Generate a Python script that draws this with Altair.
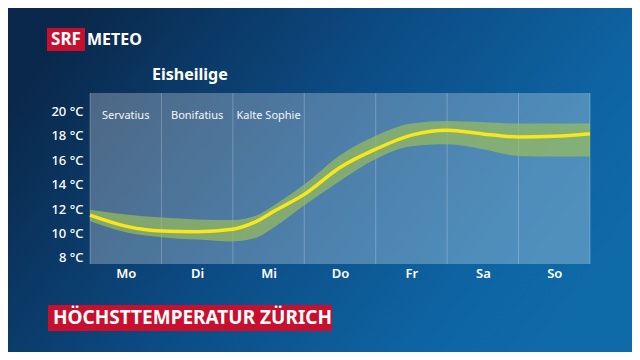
import altair as alt
import pandas as pd

# ---- data ----
days = ["Mo", "Di", "Mi", "Do", "Fr", "Sa", "So"]
saints = ["Servatius", "Bonifatius", "Kalte Sophie"]
pos = [0, 0.5, 1, 1.5, 2, 2.3, 2.6, 3, 3.5, 4, 4.5, 5, 5.5, 6, 6.5, 7]
temp = [11.5, 10.6, 10.2, 10.15, 10.35, 10.9, 11.9, 13.2, 15.4, 16.9, 18.05, 18.45, 18.15, 17.9, 17.95, 18.17]
upper = [11.95, 11.55, 11.3, 11.15, 11.1, 11.4, 12.4, 14.0, 16.4, 18.0, 19.0, 19.2, 19.1, 19.0, 19.0, 19.0]
lower = [11.0, 10.1, 9.7, 9.5, 9.35, 9.6, 10.6, 12.3, 14.3, 16.1, 17.15, 17.3, 16.9, 16.35, 16.3, 16.3]
y_ticks = [8, 10, 12, 14, 16, 18, 20]

W, H = 500, 171
PL, PT, PR, PB = 82, 85, 42, 88
FONT = "Noto Sans"

df = pd.DataFrame({"x": pos, "t": temp, "hi": upper, "lo": lower})
cols = pd.DataFrame({"start": list(range(7)), "end": list(range(1, 8)), "day": days})
bounds = pd.DataFrame({"b": list(range(0, 8))})
saint_df = pd.DataFrame({"x": [0.5, 1.5, 2.5], "name": saints})
one = pd.DataFrame({"a": [0]})

xs = alt.Scale(domain=[0, 7], nice=False, zero=False)
ys = alt.Scale(domain=[7.5, 21.5], nice=False, zero=False)

xaxis = alt.Axis(
    values=[0.5, 1.5, 2.5, 3.5, 4.5, 5.5, 6.5],
    labelExpr="['Mo','Di','Mi','Do','Fr','Sa','So'][floor(datum.value)]",
    title=None, domain=False, ticks=False, grid=False, zindex=1,
    labelColor="white", labelFont=FONT, labelFontSize=13, labelFontWeight=600,
    labelPadding=3, labelFlush=False, labelOverlap=False,
)
yaxis = alt.Axis(
    values=y_ticks, labelExpr="datum.value + ' °C'", title=None, zindex=1,
    domain=False, ticks=False, grid=False, labelColor="white", labelOverlap=False,
    labelFont=FONT, labelFontSize=13, labelFontWeight=500, labelPadding=7,
)

bg = alt.Chart(one).mark_rect(
    color=alt.Gradient(
        gradient="linear",
        stops=[
            alt.GradientStop(offset=0, color="#0a284b"),
            alt.GradientStop(offset=0.45, color="#0c4c85"),
            alt.GradientStop(offset=0.8, color="#0e64a2"),
            alt.GradientStop(offset=1, color="#0f6ba8"),
        ],
        x1=0, y1=0.3, x2=1, y2=0.7,
    )
).encode(
    x=alt.value(-PL), x2=alt.value(W + PR), y=alt.value(-PT), y2=alt.value(H + PB)
)

panel = alt.Chart(cols).mark_rect(color="white", opacity=0.27).encode(
    x=alt.X("start:Q", scale=xs, axis=xaxis),
    x2="end:Q",
    y=alt.value(0), y2=alt.value(H),
)

rules = alt.Chart(bounds).mark_rule(color="white", opacity=0.25, strokeWidth=1).encode(
    x=alt.X("b:Q", scale=xs, axis=xaxis), y=alt.value(0), y2=alt.value(H)
)

band = alt.Chart(df).mark_area(interpolate="monotone", color="#9cbf58", opacity=0.68).encode(
    x=alt.X("x:Q", scale=xs, axis=xaxis),
    y=alt.Y("lo:Q", scale=ys, axis=yaxis),
    y2="hi:Q",
)

line = alt.Chart(df).mark_line(interpolate="monotone", color="#f7e71c", strokeWidth=3.5).encode(
    x=alt.X("x:Q", scale=xs, axis=xaxis), y=alt.Y("t:Q", scale=ys, axis=yaxis)
)

saint_txt = alt.Chart(saint_df).mark_text(color="white", font=FONT, fontSize=11, opacity=0.95).encode(
    x=alt.X("x:Q", scale=xs, axis=xaxis), y=alt.value(23), text="name:N"
)

# header / footer decorations
srf_box = alt.Chart(one).mark_rect(color="#c8102e").encode(
    x=alt.value(-43), x2=alt.value(-5), y=alt.value(-65), y2=alt.value(-42)
)
srf_txt = alt.Chart(one).mark_text(text="SRF", color="white", font=FONT, fontSize=17,
                                   fontWeight="bold", align="center", baseline="middle").encode(
    x=alt.value(-24), y=alt.value(-53)
)
meteo_txt = alt.Chart(one).mark_text(text="METEO", color="white", font=FONT, fontSize=16,
                                     fontWeight="bold", align="left", baseline="middle").encode(
    x=alt.value(-3), y=alt.value(-53)
)
title_txt = alt.Chart(one).mark_text(text="Eisheilige", color="white", font=FONT, fontSize=16,
                                     fontWeight="bold", align="left", baseline="middle").encode(
    x=alt.value(62), y=alt.value(-18)
)
foot_box = alt.Chart(one).mark_rect(color="#c8102e").encode(
    x=alt.value(-42), x2=alt.value(242), y=alt.value(212), y2=alt.value(238)
)
foot_txt = alt.Chart(one).mark_text(text="HÖCHSTTEMPERATUR ZÜRICH", color="white", font=FONT,
                                    fontSize=19, fontWeight="bold", align="left", baseline="middle").encode(
    x=alt.value(-37), y=alt.value(225)
)

chart = alt.layer(
    bg, panel, rules, band, line, saint_txt,
    srf_box, srf_txt, meteo_txt, title_txt, foot_box, foot_txt,
).properties(
    width=W, height=H,
    autosize=alt.AutoSizeParams(type="none"),
    padding={"left": PL, "top": PT, "right": PR, "bottom": PB},
    background="#0e6aa6",
).configure_view(stroke=None)

chart.save("out.html", embed_options={"renderer": "svg", "actions": False})
